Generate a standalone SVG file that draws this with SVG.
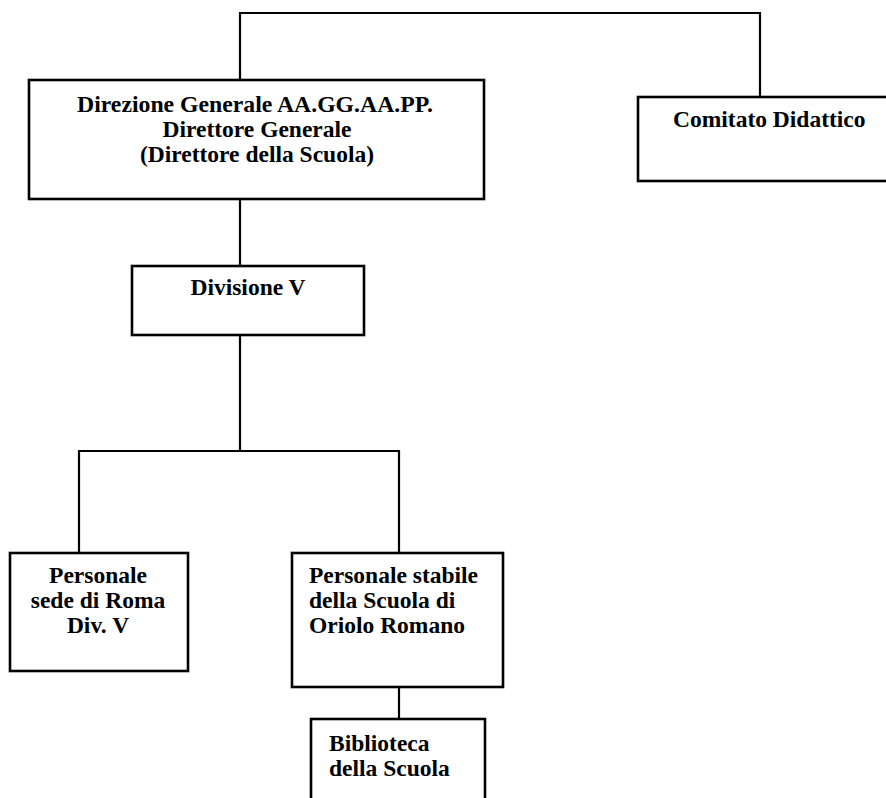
<svg xmlns="http://www.w3.org/2000/svg" width="886" height="798" viewBox="0 0 886 798">
<style>
.box{fill:#fff;stroke:#000;stroke-width:2.6}
.conn{fill:none;stroke:#000;stroke-width:2.2}
text{font-family:"Liberation Serif","Times New Roman",serif;font-weight:bold;font-size:23.5px;fill:#000}
.c{text-anchor:middle}
</style>
<rect width="886" height="798" fill="#fff"/>
<g id="connectors">
<polyline class="conn" points="240,80 240,13 760,13 760,97"/>
<line class="conn" x1="240" y1="199" x2="240" y2="266"/>
<line class="conn" x1="240" y1="335" x2="240" y2="451"/>
<polyline class="conn" points="79,553 79,451 399,451 399,553"/>
<line class="conn" x1="399" y1="687" x2="399" y2="719"/>
</g>
<g id="direzione">
<rect class="box" x="29" y="80" width="455" height="119"/>
<text class="c" x="255" y="112" textLength="356" lengthAdjust="spacingAndGlyphs">Direzione Generale AA.GG.AA.PP.</text>
<text class="c" x="257" y="137">Direttore Generale</text>
<text class="c" x="257" y="162">(Direttore della Scuola)</text>
</g>
<g id="comitato">
<rect class="box" x="638" y="97" width="260" height="84"/>
<text x="673" y="127">Comitato Didattico</text>
</g>
<g id="divisione">
<rect class="box" x="132" y="266" width="232" height="69"/>
<text class="c" x="248" y="295">Divisione V</text>
</g>
<g id="personale-roma">
<rect class="box" x="10" y="553" width="178" height="118"/>
<text class="c" x="98" y="583">Personale</text>
<text class="c" x="98" y="608">sede di Roma</text>
<text class="c" x="98" y="633">Div. V</text>
</g>
<g id="personale-oriolo">
<rect class="box" x="292" y="553" width="211" height="134"/>
<text x="309" y="583">Personale stabile</text>
<text x="309" y="608">della Scuola di</text>
<text x="309" y="633">Oriolo Romano</text>
</g>
<g id="biblioteca">
<rect class="box" x="311" y="719" width="174" height="95"/>
<text x="329" y="751">Biblioteca</text>
<text x="329" y="776">della Scuola</text>
</g>
</svg>
